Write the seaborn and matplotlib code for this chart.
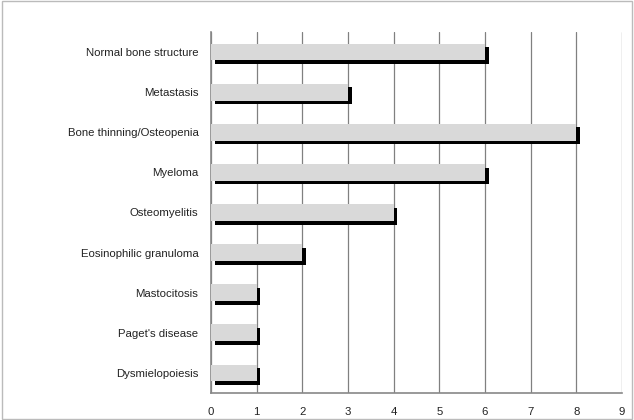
import matplotlib
matplotlib.use("Agg")
import matplotlib.pyplot as plt
import matplotlib.patheffects as pe
import seaborn as sns
import pandas as pd

categories = [
    "Normal bone structure",
    "Metastasis",
    "Bone thinning/Osteopenia",
    "Myeloma",
    "Osteomyelitis",
    "Eosinophilic granuloma",
    "Mastocitosis",
    "Paget's disease",
    "Dysmielopoiesis",
]
counts = [6, 3, 8, 6, 4, 2, 1, 1, 1]
x_ticks = [0, 1, 2, 3, 4, 5, 6, 7, 8, 9]

df = pd.DataFrame({"category": categories, "count": counts})

sns.set_style("white")
plt.rcParams["font.family"] = ["Liberation Sans", "DejaVu Sans"]

fig = plt.figure(figsize=(6.34, 4.2), dpi=100)
ax = fig.add_axes([211 / 634, 1 - 393 / 420, 411 / 634, 361 / 420])

sns.barplot(data=df, x="count", y="category", orient="h",
            color="#d9d9d9", saturation=1, width=0.42, linewidth=0, ax=ax)

# black drop shadow to the right and below each bar
for bar in ax.patches:
    bar.set_path_effects([
        pe.SimplePatchShadow(offset=(2.6, -2.6), shadow_rgbFace="black", alpha=1),
        pe.Normal(),
    ])
    bar.set_zorder(3)

ax.set_xlim(0, 9)
ax.set_xticks(x_ticks)
ax.set_ylim(8.5, -0.5)
ax.set_yticks([i - 0.5 for i in range(10)], minor=False)
ax.set_yticklabels([])
ax.set_yticks(range(len(categories)), minor=True)
ax.set_yticklabels(categories, minor=True)
ax.tick_params(axis="y", which="minor", length=0, pad=9, labelsize=8.2, labelcolor="#222222")
ax.tick_params(axis="y", which="major", length=4, color="#888888", direction="out")
ax.tick_params(axis="x", length=4, color="#888888", direction="out", labelsize=8.2,
               labelcolor="#222222", pad=6)
ax.set_xlabel("")
ax.set_ylabel("")

ax.grid(axis="x", color="#808080", linewidth=0.9, zorder=0)
ax.set_axisbelow(True)
for side in ["top", "right"]:
    ax.spines[side].set_visible(False)
for side in ["left", "bottom"]:
    ax.spines[side].set_color("#888888")
    ax.spines[side].set_linewidth(1.2)

fig.patches.append(plt.Rectangle((0.003, 0.003), 0.994, 0.994, transform=fig.transFigure,
                                 fill=False, edgecolor="#bbbbbb", linewidth=1))

fig.savefig("out.png", dpi=100)
